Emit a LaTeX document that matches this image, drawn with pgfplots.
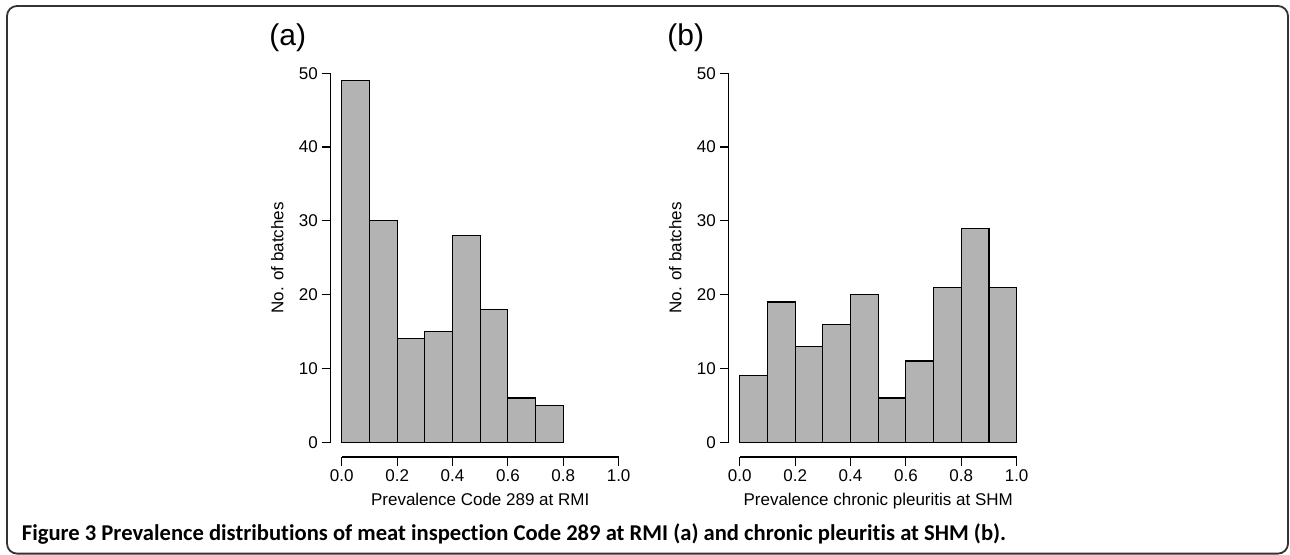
\documentclass[border=0pt]{standalone}
\usepackage{pgfplots}
\pgfplotsset{compat=1.18}
\usepackage{fontspec}
\setmainfont{Liberation Sans}
\newfontfamily\capfont[Ligatures=NoCommon]{Carlito}
\definecolor{histgray}{RGB}{179,179,179}
\begin{document}
\begin{tikzpicture}
\useasboundingbox (0,0) rectangle (645pt,-277.5pt);
\draw[line width=0.9pt, black!80, rounded corners=5pt] (3.5pt,-3pt) rectangle (644pt,-276.8pt);
\pgfplotsset{rhist/.style={
  scale only axis, width=149.5pt, height=199.3pt,
  anchor=south west,
  xmin=-0.04, xmax=1.04, ymin=-2, ymax=52,
  axis line style={draw=none},
  xtick={0,0.2,0.4,0.6,0.8,1}, ytick={0,10,20,30,40,50},
  xtick pos=left, ytick pos=left,
  tick align=outside, major tick length=4.5pt,
  tick style={black, line width=0.6pt},
  /pgf/number format/assume math mode=true,
  xticklabel style={/pgf/number format/.cd, fixed, fixed zerofill, precision=1, /tikz/.cd,
    font=\fontsize{8.5}{10}\selectfont, inner sep=1.5pt},
  yticklabel style={font=\fontsize{8.5}{10}\selectfont, inner sep=1.7pt},
  clip=false,
}}
% Panel (a)
\begin{axis}[rhist, name=a, at={(165.35pt,-228.5pt)}]
\addplot[ybar interval, fill=histgray, draw=black, line width=0.6pt] coordinates {
 (0.0,49) (0.1,30) (0.2,14) (0.3,15) (0.4,28) (0.5,18) (0.6,6) (0.7,5) (0.8,0)};
\draw[black, line width=0.6pt] (axis cs:-0.04,0) -- (axis cs:-0.04,50);
\draw[black, line width=0.6pt] (axis cs:0,-2) -- (axis cs:1,-2);
\end{axis}
% Panel (b)
\begin{axis}[rhist, name=b, at={(364.35pt,-228.5pt)}]
\addplot[ybar interval, fill=histgray, draw=black, line width=0.6pt] coordinates {
 (0.0,9) (0.1,19) (0.2,13) (0.3,16) (0.4,20) (0.5,6) (0.6,11) (0.7,21) (0.8,29) (0.9,21) (1.0,0)};
\draw[black, line width=0.6pt] (axis cs:-0.04,0) -- (axis cs:-0.04,50);
\draw[black, line width=0.6pt] (axis cs:0,-2) -- (axis cs:1,-2);
\end{axis}
% axis labels
\node[rotate=90, anchor=base, font=\fontsize{8.5}{10}\selectfont] at ([xshift=-23.7pt]a.west) {No. of batches};
\node[rotate=90, anchor=base, font=\fontsize{8.5}{10}\selectfont] at ([xshift=-23.7pt]b.west) {No. of batches};
\node[anchor=base, font=\fontsize{8.5}{10}\selectfont] at ([yshift=-24pt]a.south) {Prevalence Code 289 at RMI};
\node[anchor=base, font=\fontsize{8.5}{10}\selectfont] at ([yshift=-24pt]b.south) {Prevalence chronic pleuritis at SHM};
% panel titles
\node[anchor=base west, inner sep=0pt, font=\fontsize{15}{17}\selectfont] at (134.5pt,-22.75pt) {(a)};
\node[anchor=base west, inner sep=0pt, font=\fontsize{15}{17}\selectfont] at (333.5pt,-22.75pt) {(b)};
% caption
\node[anchor=base west, inner sep=0pt, font=\capfont\bfseries\fontsize{11.3}{13}\selectfont] at (10.75pt,-270.2pt)
 {Figure 3 Prevalence distributions of meat inspection Code 289 at RMI (a) and chronic pleuritis at SHM (b).};
\end{tikzpicture}
\end{document}
